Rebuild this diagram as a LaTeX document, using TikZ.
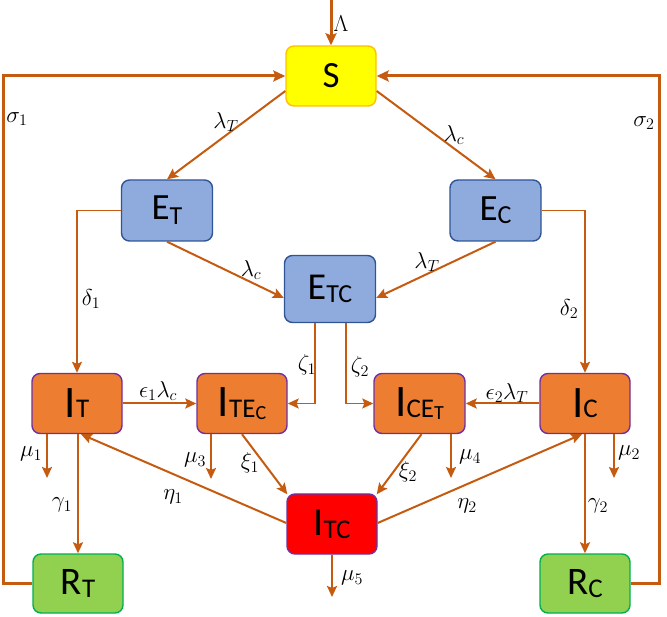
\documentclass[tikz,border=0pt]{standalone}
\usepackage{fix-cm}
\usepackage[no-math]{fontspec}
\setmainfont{Carlito}
\usetikzlibrary{arrows.meta,calc}
\definecolor{arr}{HTML}{C55A11}
\definecolor{sfill}{HTML}{FFFF00}
\definecolor{sdraw}{HTML}{FFC000}
\definecolor{efill}{HTML}{8FAADC}
\definecolor{edraw}{HTML}{2F5597}
\definecolor{ifill}{HTML}{ED7D31}
\definecolor{idraw}{HTML}{7030A0}
\definecolor{tfill}{HTML}{FF0000}
\definecolor{rfill}{HTML}{92D050}
\definecolor{rdraw}{HTML}{00B050}
\newcommand{\Fs}[1]{\fontsize{#1}{#1}\selectfont}
\newcommand{\Sbx}[3][3pt]{\raisebox{-#1}{\Fs{#2}#3}}
\tikzset{
  box/.style={rounded corners=8pt,inner sep=0pt,line width=1.4pt,anchor=center},
  sbox/.style={box,fill=sfill,draw=sdraw,minimum width=90pt,minimum height=60pt},
  ebox/.style={box,fill=efill,draw=edraw,minimum width=91pt,minimum height=61pt},
  ibox/.style={box,fill=ifill,draw=idraw,minimum width=90pt,minimum height=60pt},
  tbox/.style={box,fill=tfill,draw=idraw,minimum width=90pt,minimum height=60pt},
  rbox/.style={box,fill=rfill,draw=rdraw,minimum width=90pt,minimum height=59pt},
  flow/.style={draw=arr,line width=2pt,-{Stealth[length=11pt,width=10pt,inset=2pt]}},
  thin flow/.style={flow,line width=1.5pt},
  back/.style={draw=arr,line width=3pt,-{Stealth[length=12pt,width=11pt,inset=2pt]}},
  lab/.style={inner sep=0pt,font=\Fs{23}}
}
\begin{document}
\begin{tikzpicture}[x=1pt,y=-1pt]
\useasboundingbox (0,0) rectangle (667,617);
% nodes
\node[sbox] (S) at (331,76) {\Fs{37}S};
\node[ebox] (ET) at (167,210.5) {\Fs{37}E\Sbx[5pt]{26}{T}};
\node[ebox] (EC) at (495.5,210.5) {\Fs{37}E\Sbx[3pt]{26}{C}};
\node[ebox,minimum height=67pt] (ETC) at (330,289) {\Fs{38}E\Sbx[3pt]{26}{TC}};
\node[ibox] (IT) at (77,403.5) {\Fs{45}I\Sbx[0pt]{27}{T}};
\node[ibox] (ITE) at (242,403.5) {\Fs{45}I\Sbx[1pt]{27}{TE\Sbx[2pt]{20}{C}}};
\node[ibox,minimum width=91pt] (ICE) at (419.5,403.5) {\Fs{45}I\Sbx[1pt]{27}{CE\Sbx[2pt]{20}{T}}};
\node[ibox] (IC) at (585,403.5) {\Fs{45}I\Sbx[0pt]{27}{C}};
\node[tbox] (ITC) at (332,524) {\Fs{40}I\Sbx[3pt]{27}{TC}};
\node[rbox] (RT) at (78,583.5) {\Fs{39}R\Sbx[3pt]{27}{T}};
\node[rbox] (RC) at (585,583.5) {\Fs{39}R\Sbx[3pt]{27}{C}};
% free ends
\coordinate (top) at (331,0);
\coordinate (xl) at (3.5,300);
\coordinate (xr) at (659,300);
\coordinate (m1) at (47,478);
\coordinate (m3) at (211,479);
\coordinate (m4) at (451,478);
\coordinate (m2) at (614,478);
\coordinate (m5) at (332,597);
% connectors
\draw[back] (top) -- (S.north);
\draw[flow] ($(S.west)+(0,15)$) -- (ET.north);
\draw[flow] ($(S.east)+(0,15)$) -- (EC.north);
\draw[flow] (ET.south) -- ($(ETC.west)+(0,9)$);
\draw[flow] (EC.south) -- ($(ETC.east)+(0,9)$);
\draw[thin flow] (ET.west) -| (IT.north);
\draw[thin flow] (EC.east) -| (IC.north);
\draw[thin flow] ($(ETC.south)+(-15,0)$) |- (ITE.east);
\draw[thin flow] ($(ETC.south)+(16,0)$) |- (ICE.west);
\draw[flow] (IT.east) -- (ITE.west);
\draw[flow] (IC.west) -- (ICE.east);
\draw[flow] (IT.south -| m1) -- (m1);
\draw[flow] (RT.north |- IT.south) -- (RT.north);
\draw[flow] (ITE.south -| m3) -- (m3);
\draw[flow] (ITE.south) -- ($(ITC.north west)+(1,1)$);
\draw[flow] ($(ICE.south)+(2,0)$) -- ($(ITC.north east)+(-1,1)$);
\draw[flow] (ICE.south -| m4) -- (m4);
\draw[flow] (IC.south -| m2) -- (m2);
\draw[flow] (IC.south) -- (RC.north);
\draw[flow] ($(ITC.west)+(0,-1)$) -- ($(IT.south)+(4,0)$);
\draw[flow] ($(ITC.east)+(0,-1)$) -- ($(IC.south)+(-3,0)$);
\draw[flow] (ITC.south) -- (m5);
\draw[back] (RT.west) -- (RT.west -| xl) |- (S.west);
\draw[back] (RC.east) -- (RC.east -| xr) |- (S.east);
% labels
\node[lab] (lLam) at (341,24) {$\Lambda$};
\node[lab] (ls1) at (17,119) {$\sigma_1$};
\node[lab] (ls2) at (644,123) {$\sigma_2$};
\node[lab] (llT) at (226,122) {$\lambda_T$};
\node[lab] (llc) at (454,135) {$\lambda_c$};
\node[lab] (ld1) at (91,299) {$\delta_1$};
\node[lab] (ld2) at (569,309) {$\delta_2$};
\node[lab] (llc2) at (251,270) {$\lambda_c$};
\node[lab] (llT2) at (427,262) {$\lambda_T$};
\node[lab] (lz1) at (307,365) {$\zeta_1$};
\node[lab] (lz2) at (360,367) {$\zeta_2$};
\node[lab] (le1) at (158,391) {$\epsilon_1\lambda_c$};
\node[lab] (le2) at (507,393) {$\epsilon_2\lambda_T$};
\node[lab] (lm1) at (31,454) {$\mu_1$};
\node[lab] (lm3) at (195,460) {$\mu_3$};
\node[lab] (lg1) at (62,505) {$\gamma_1$};
\node[lab] (ln1) at (173,497) {$\eta_1$};
\node[lab] (lx1) at (250,463) {$\xi_1$};
\node[lab] (lx2) at (408,472) {$\xi_2$};
\node[lab] (lm4) at (470,457) {$\mu_4$};
\node[lab] (lm2) at (629,453) {$\mu_2$};
\node[lab] (ln2) at (467,506) {$\eta_2$};
\node[lab] (lg2) at (598,506) {$\gamma_2$};
\node[lab] (lm5) at (352,578) {$\mu_5$};
\end{tikzpicture}
\end{document}
